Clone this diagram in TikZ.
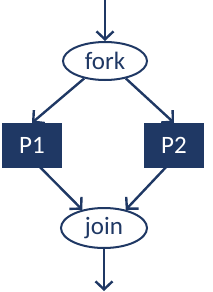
\documentclass[tikz,border=0pt]{standalone}
\usepackage{fontspec}
\setmainfont{Carlito}
\usetikzlibrary{arrows.meta,shapes.geometric}
\definecolor{navy}{HTML}{1F3864}
\tikzset{
  >={Straight Barb[length=8pt,width=17pt]},
  every node/.style={font=\fontsize{25}{28}\selectfont},
  % --- nodes
  gate/.style = {ellipse, draw=navy, fill=white, line width=2pt, text=navy,
                 minimum width=84pt, minimum height=38pt, inner sep=0pt},
  proc/.style = {rectangle, draw=navy, fill=navy, text=white,
                 minimum width=59pt, minimum height=44pt, inner sep=0pt},
  % --- edges
  e/.style    = {->, line width=2.4pt, draw=navy},
}

\begin{document}
\begin{tikzpicture}[x=1pt,y=1pt]
  \useasboundingbox (0,0) rectangle (212,-292);

  % fork / join gates and the two processes
  \node[gate] (fork) at (105,-61)  {fork};
  \node[proc] (p1)   at (32,-145)  {P1};
  \node[proc] (p2)   at (174,-145) {P2};
  \node[gate, minimum width=86pt, minimum height=40pt] (join) at (104,-228) {join};

  \coordinate (in)  at (105,0);
  \coordinate (out) at (104,-291);

  % flow
  \draw[e] (in) -- (fork);
  \draw[e] (fork.220) -- (p1.north);
  \draw[e] (fork.320) -- (p2.north);
  \draw[e] (p1.-70) -- (join.140);
  \draw[e] (p2.-110) -- (join.40);
  \draw[e] (join) -- (out);
\end{tikzpicture}
\end{document}
